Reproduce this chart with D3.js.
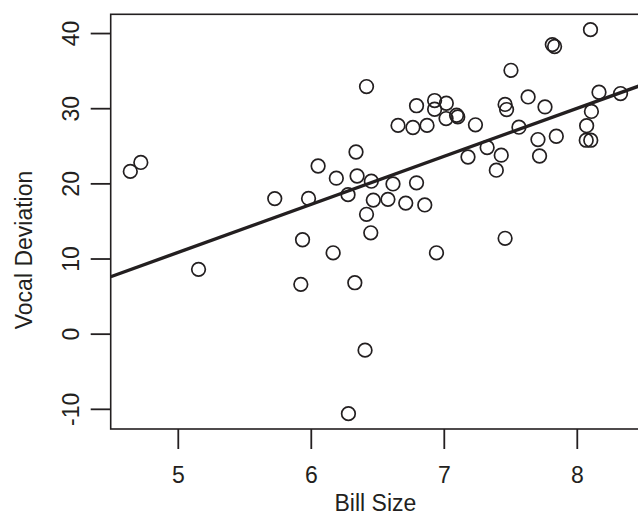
<!DOCTYPE html>
<html>
<head>
<meta charset="utf-8">
<script src="https://cdn.jsdelivr.net/npm/d3@7"></script>
<style>
  html, body { margin: 0; padding: 0; background: #fff; }
  svg { display: block; }
  text { font-family: "Liberation Sans", Arial, Helvetica, sans-serif; fill: #231f20; }
</style>
</head>
<body>
<script>
// ---- data ----
const billSize = [4.643, 4.722, 5.156, 5.729, 5.925, 5.938, 5.983, 6.055, 6.168, 6.192,
  6.280, 6.283, 6.331, 6.340, 6.348, 6.408, 6.419, 6.419, 6.451, 6.455,
  6.470, 6.580, 6.618, 6.656, 6.714, 6.768, 6.795, 6.795, 6.857, 6.874,
  6.931, 6.931, 6.945, 7.019, 7.017, 7.096, 7.105, 7.182, 7.238, 7.326,
  7.395, 7.432, 7.461, 7.472, 7.461, 7.505, 7.565, 7.634, 7.708, 7.720,
  7.761, 7.816, 7.833, 7.846, 8.071, 8.105, 8.074, 8.103, 8.110, 8.167, 8.329];
const vocalDeviation = [21.59, 22.78, 8.56, 17.97, 6.56, 12.50, 17.99, 22.31, 10.76, 20.69,
  18.50, -10.64, 6.78, 24.17, 20.98, -2.19, 32.88, 15.88, 13.42, 20.29,
  17.77, 17.87, 19.92, 27.71, 17.37, 27.43, 30.33, 20.07, 17.13, 27.71,
  31.02, 29.86, 10.76, 30.66, 28.62, 29.06, 28.84, 23.51, 27.79, 24.77,
  21.75, 23.75, 30.50, 29.82, 12.69, 35.04, 27.47, 31.50, 25.83, 23.64,
  30.17, 38.46, 38.21, 26.27, 25.74, 25.74, 27.67, 40.45, 29.57, 32.12, 31.95];
const xTicks = [5, 6, 7, 8];
const yTicks = [-10, 0, 10, 20, 30, 40];
const fitLine = { intercept: -21.15, slope: 6.39 };
const xLabel = "Bill Size";
const yLabel = "Vocal Deviation";

// ---- layout ----
const W = 638, H = 516;
const pLeft = 110.7, pTop = 14.3, pBottom = 429;
const ink = "#231f20";

function rExtend(vals) {
  const lo = d3.min(vals), hi = d3.max(vals), d = (hi - lo) * 0.04;
  return [lo - d, hi + d];
}
const xDom = rExtend(billSize), yDom = rExtend(vocalDeviation);
const pxPerX = 133;
const pRight = pLeft + (xDom[1] - xDom[0]) * pxPerX;

const x = d3.scaleLinear().domain(xDom).range([pLeft, pRight]);
const y = d3.scaleLinear().domain(yDom).range([pBottom, pTop]);

const svg = d3.select("body").append("svg").attr("width", W).attr("height", H);

svg.append("defs").append("clipPath").attr("id", "plotclip")
  .append("rect").attr("x", pLeft).attr("y", pTop).attr("width", pRight - pLeft).attr("height", pBottom - pTop);

// box
svg.append("rect").attr("x", pLeft).attr("y", pTop).attr("width", pRight - pLeft).attr("height", pBottom - pTop)
  .attr("fill", "none").attr("stroke", ink).attr("stroke-width", 1.6);

// points
const pts = billSize.map((b, i) => ({ b, v: vocalDeviation[i] }));
svg.append("g").selectAll("circle").data(pts).join("circle")
  .attr("cx", d => x(d.b)).attr("cy", d => y(d.v)).attr("r", 6.8)
  .attr("fill", "none").attr("stroke", ink).attr("stroke-width", 1.7);

// regression line
svg.append("line").attr("clip-path", "url(#plotclip)")
  .attr("x1", x(xDom[0])).attr("y1", y(fitLine.intercept + fitLine.slope * xDom[0]))
  .attr("x2", x(xDom[1])).attr("y2", y(fitLine.intercept + fitLine.slope * xDom[1]))
  .attr("stroke", ink).attr("stroke-width", 3.4);

const fmt = d => String(d);

// x axis
const xAxis = d3.axisBottom(x).tickValues(xTicks).tickSize(20).tickFormat(fmt);
const gx = svg.append("g").attr("transform", `translate(0,${pBottom})`).call(xAxis);
gx.select(".domain").remove();
gx.selectAll(".tick line").attr("stroke", ink).attr("stroke-width", 1.8);
gx.selectAll(".tick text").attr("font-size", 23).attr("fill", ink)
  .attr("dy", null).attr("y", 53.5).style("font-family", "'Liberation Sans', Arial, sans-serif");

// y axis
const yAxis = d3.axisLeft(y).tickValues(yTicks).tickSize(20).tickFormat(fmt);
const gy = svg.append("g").attr("transform", `translate(${pLeft},0)`).call(yAxis);
gy.select(".domain").remove();
gy.selectAll(".tick line").attr("stroke", ink).attr("stroke-width", 1.8);
gy.selectAll(".tick text").attr("font-size", 23).attr("fill", ink)
  .attr("x", null).attr("dy", null).attr("text-anchor", "middle")
  .attr("transform", `translate(${79.3 - pLeft},0) rotate(-90)`)
  .style("font-family", "'Liberation Sans', Arial, sans-serif");

// axis titles
svg.append("text").attr("x", (pLeft + pRight) / 2).attr("y", 511)
  .attr("text-anchor", "middle").attr("font-size", 23).text(xLabel);
svg.append("text").attr("transform", `translate(31.7,250) rotate(-90)`)
  .attr("text-anchor", "middle").attr("font-size", 23).text(yLabel);
</script>
</body>
</html>
